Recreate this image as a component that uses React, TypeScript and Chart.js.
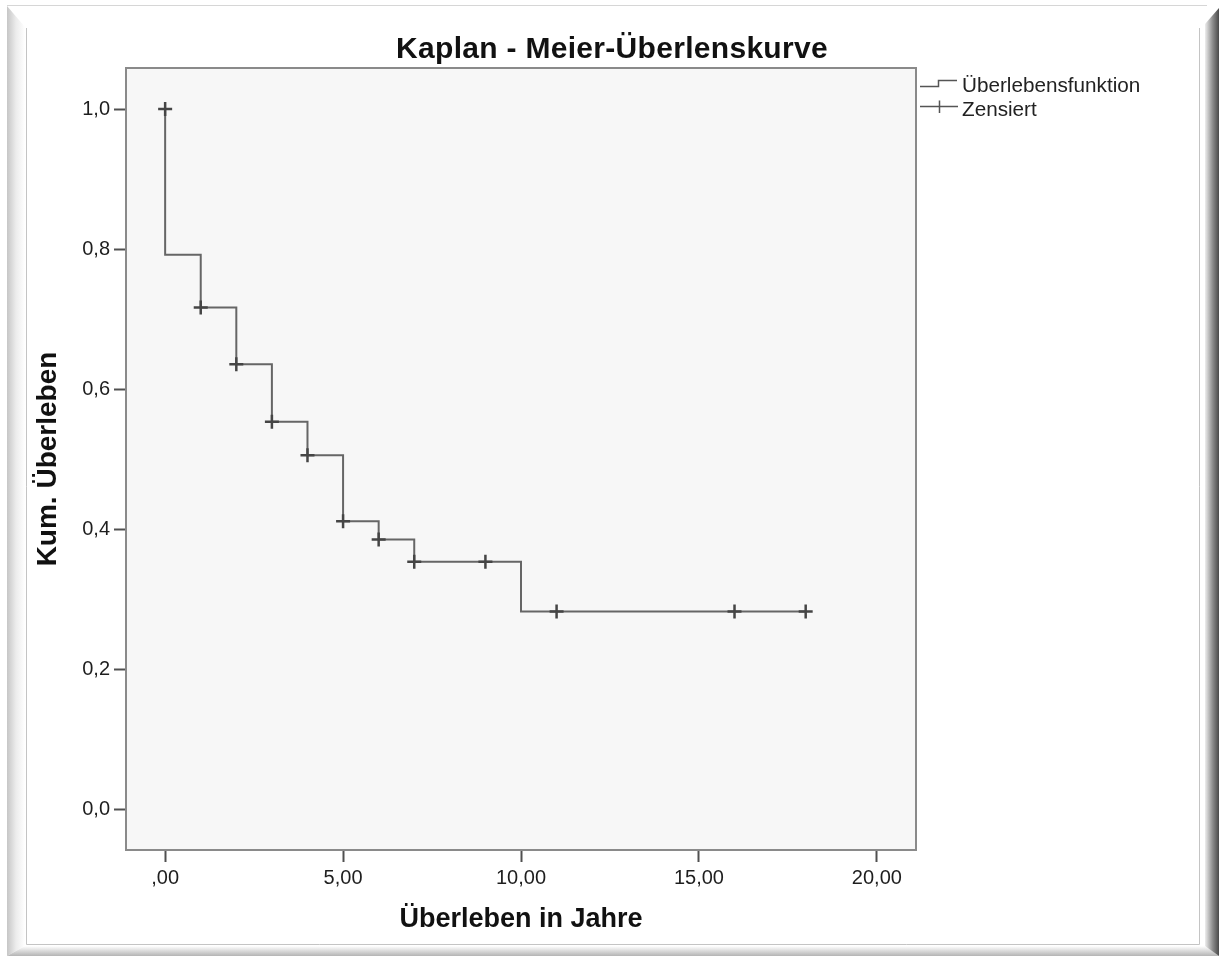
import React, { useEffect, useRef } from "react";
import { Chart, registerables } from "chart.js";

Chart.register(...registerables);

// ---- Data ----
const survivalTimes = [0, 0, 1, 2, 3, 4, 5, 6, 7, 10, 18];
const survivalValues = [1.0, 0.792, 0.717, 0.636, 0.554, 0.506, 0.412, 0.386, 0.354, 0.283, 0.283];
const censorTimes = [0, 1, 2, 3, 4, 5, 6, 7, 9, 11, 16, 18];
const censorValues = [1.0, 0.717, 0.636, 0.554, 0.506, 0.412, 0.386, 0.354, 0.354, 0.283, 0.283, 0.283];

const xTicks = [0, 5, 10, 15, 20];
const xTickLabels = [",00", "5,00", "10,00", "15,00", "20,00"];
const yTicks = [0, 0.2, 0.4, 0.6, 0.8, 1.0];
const yTickLabels = ["0,0", "0,2", "0,4", "0,6", "0,8", "1,0"];

const titleText = "Kaplan - Meier-Überlenskurve";
const xTitle = "Überleben in Jahre";
const yTitle = "Kum. Überleben";
const legendLabels = ["Überlebensfunktion", "Zensiert"];

const FONT = '"Liberation Sans", Arial, sans-serif';

const decorPlugin = {
  id: "decor",
  beforeDraw(chart: any) {
    const ctx = chart.ctx as CanvasRenderingContext2D;
    const W = chart.width;
    const H = chart.height;
    const { left, top, right, bottom } = chart.chartArea;
    ctx.save();
    ctx.fillStyle = "#ffffff";
    ctx.fillRect(0, 0, W, H);

    // outer top line
    ctx.fillStyle = "#d6d6d6";
    ctx.fillRect(7, 5, 1200, 1);

    // left bevel band
    let g = ctx.createLinearGradient(7, 0, 25, 0);
    g.addColorStop(0, "#c6c6c6");
    g.addColorStop(0.5, "#ececec");
    g.addColorStop(1, "#ffffff");
    ctx.fillStyle = g;
    ctx.beginPath();
    ctx.moveTo(7, 6);
    ctx.lineTo(25, 27);
    ctx.lineTo(25, 946);
    ctx.lineTo(7, 956);
    ctx.closePath();
    ctx.fill();

    // bottom band
    g = ctx.createLinearGradient(0, 946, 0, 956);
    g.addColorStop(0, "#ffffff");
    g.addColorStop(1, "#b4b4b4");
    ctx.fillStyle = g;
    ctx.beginPath();
    ctx.moveTo(7, 956);
    ctx.lineTo(25, 946);
    ctx.lineTo(1206, 946);
    ctx.lineTo(1219, 956);
    ctx.closePath();
    ctx.fill();

    // right shadow band
    g = ctx.createLinearGradient(1205, 0, 1219, 0);
    g.addColorStop(0, "#eeeeee");
    g.addColorStop(0.55, "#8c8c8c");
    g.addColorStop(1, "#4a4a4a");
    ctx.fillStyle = g;
    ctx.beginPath();
    ctx.moveTo(1205, 24);
    ctx.lineTo(1219, 8);
    ctx.lineTo(1219, 956);
    ctx.lineTo(1205, 946);
    ctx.closePath();
    ctx.fill();

    // inner frame lines
    ctx.strokeStyle = "#c4c4c4";
    ctx.lineWidth = 1;
    ctx.beginPath();
    ctx.moveTo(26.5, 28);
    ctx.lineTo(26.5, 944.5);
    ctx.lineTo(1199.5, 944.5);
    ctx.lineTo(1199.5, 28);
    ctx.stroke();

    // plot background
    ctx.fillStyle = "#f7f7f7";
    ctx.fillRect(left, top, right - left, bottom - top);
    ctx.restore();
  },
  afterDraw(chart: any) {
    const ctx = chart.ctx as CanvasRenderingContext2D;
    const { left, top, right, bottom } = chart.chartArea;
    ctx.save();
    // plot frame
    ctx.strokeStyle = "#8a8a8a";
    ctx.lineWidth = 2;
    ctx.strokeRect(left, top, right - left, bottom - top);

    // title
    ctx.fillStyle = "#111111";
    ctx.font = `bold 30px ${FONT}`;
    (ctx as any).letterSpacing = "0.3px";
    ctx.textAlign = "center";
    ctx.textBaseline = "alphabetic";
    ctx.fillText(titleText, 612, 58);
    (ctx as any).letterSpacing = "0px";

    // legend
    const lx = 920;
    ctx.strokeStyle = "#555555";
    ctx.lineWidth = 1.5;
    ctx.beginPath();
    ctx.moveTo(lx, 86.5);
    ctx.lineTo(lx + 18.5, 86.5);
    ctx.lineTo(lx + 18.5, 80.5);
    ctx.lineTo(lx + 37, 80.5);
    ctx.stroke();
    ctx.beginPath();
    ctx.moveTo(lx, 106.5);
    ctx.lineTo(lx + 38, 106.5);
    ctx.moveTo(lx + 19.5, 100.5);
    ctx.lineTo(lx + 19.5, 113);
    ctx.stroke();

    ctx.fillStyle = "#222222";
    ctx.font = `20.7px ${FONT}`;
    ctx.textAlign = "left";
    ctx.fillText(legendLabels[0], 962, 92);
    ctx.fillText(legendLabels[1], 962, 116);
    ctx.restore();
  },
};

export default function App() {
  const canvasRef = useRef<HTMLCanvasElement | null>(null);

  useEffect(() => {
    const canvas = canvasRef.current;
    if (!canvas) return;

    const chart = new Chart(canvas, {
      type: "scatter",
      data: {
        datasets: [
          {
            label: legendLabels[0],
            data: survivalTimes.map((t, i) => ({ x: t, y: survivalValues[i] })),
            showLine: true,
            stepped: true,
            borderColor: "#666666",
            borderWidth: 2,
            pointRadius: 0,
            pointHoverRadius: 0,
            fill: false,
            order: 2,
          } as any,
          {
            label: legendLabels[1],
            data: censorTimes.map((t, i) => ({ x: t, y: censorValues[i] })),
            showLine: false,
            pointStyle: "cross",
            pointRadius: 7,
            pointHoverRadius: 7,
            borderColor: "#454545",
            backgroundColor: "#454545",
            borderWidth: 2.5,
            order: 1,
          } as any,
        ],
      },
      options: {
        responsive: false,
        animation: false,
        devicePixelRatio: 1,
        layout: { padding: { top: 68, right: 303, bottom: 0, left: 0 } },
        plugins: {
          legend: { display: false },
          title: { display: false },
          tooltip: { enabled: false },
        },
        scales: {
          x: {
            type: "linear",
            min: -1.1,
            max: 21.1,
            afterBuildTicks: (s: any) => {
              s.ticks = xTicks.map((v) => ({ value: v }));
            },
            afterFit: (s: any) => {
              s.height = 106;
            },
            ticks: {
              callback: (_v: any, i: number) => xTickLabels[i],
              font: { family: FONT, size: 20 },
              color: "#1e1e1e",
              padding: 4,
              maxRotation: 0,
              autoSkip: false,
            },
            grid: {
              display: true,
              drawOnChartArea: false,
              drawTicks: true,
              tickLength: 12,
              tickColor: "#505050",
              tickWidth: 2,
            },
            border: { display: false },
            title: {
              display: true,
              text: xTitle,
              color: "#111111",
              font: { family: FONT, size: 27, weight: "bold" },
              padding: { top: 0, bottom: 20 },
            },
          },
          y: {
            type: "linear",
            min: -0.0571,
            max: 1.0586,
            afterBuildTicks: (s: any) => {
              s.ticks = yTicks.map((v) => ({ value: v }));
            },
            afterFit: (s: any) => {
              s.width = 126;
            },
            ticks: {
              callback: (_v: any, i: number) => yTickLabels[i],
              font: { family: FONT, size: 20 },
              color: "#1e1e1e",
              padding: 4,
              autoSkip: false,
            },
            grid: {
              display: true,
              drawOnChartArea: false,
              drawTicks: true,
              tickLength: 12,
              tickColor: "#505050",
              tickWidth: 2,
            },
            border: { display: false },
            title: {
              display: true,
              text: yTitle,
              color: "#111111",
              font: { family: FONT, size: 28, weight: "bold" },
              padding: { top: 31, bottom: 0 },
            },
          },
        },
      } as any,
      plugins: [decorPlugin as any],
    });

    return () => chart.destroy();
  }, []);

  return (
    <div style={{ position: "absolute", left: 0, top: 0, width: 1219, height: 956 }}>
      <canvas ref={canvasRef} width={1219} height={956} style={{ display: "block", width: 1219, height: 956 }} />
    </div>
  );
}
